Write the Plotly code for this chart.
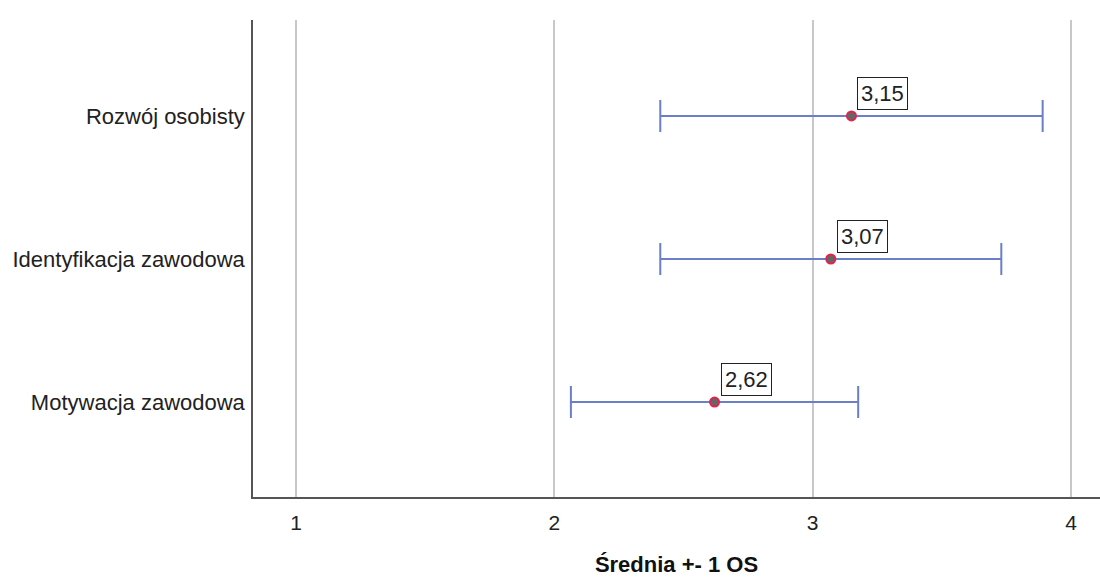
import plotly.graph_objects as go

# Scale scores: mean and +/- 1 standard deviation
categories = ["Motywacja zawodowa", "Identyfikacja zawodowa", "Rozwój osobisty"]
means = [2.62, 3.07, 3.15]
sds = [0.556, 0.66, 0.74]
x_ticks = [1, 2, 3, 4]
x_title = "Średnia +- 1 OS"

FONT = "Liberation Sans, Arial, sans-serif"

fig = go.Figure()
fig.add_trace(go.Scatter(
    x=means,
    y=list(range(len(categories))),
    mode="markers",
    marker=dict(size=9, color="#666666", line=dict(color="#e0244c", width=2)),
    error_x=dict(type="data", array=sds, symmetric=True,
                 color="#6a7fc8", thickness=2, width=16),
    showlegend=False,
    hoverinfo="skip",
))

# Value boxes next to each mean
for i, m in enumerate(means):
    fig.add_annotation(
        x=m, y=i, xref="x", yref="y",
        text=f"{m:.2f}".replace(".", ","),
        showarrow=False,
        xanchor="left", yanchor="bottom",
        xshift=6, yshift=6,
        font=dict(family=FONT, size=22, color="#222"),
        bordercolor="#222", borderwidth=1, borderpad=3,
        bgcolor="white",
    )

fig.update_layout(
    width=1100, height=577,
    margin=dict(l=253, r=0, t=20, b=80),
    plot_bgcolor="white", paper_bgcolor="white",
    font=dict(family=FONT, size=21, color="#222"),
)
fig.update_xaxes(
    range=[0.8335, 4.112],
    tickvals=x_ticks,
    showgrid=True, gridcolor="#c8c8c8", gridwidth=1.5,
    zeroline=False,
    showline=True, linecolor="#555", linewidth=1.5,
    ticks="", ticklabelstandoff=6,
    tickfont=dict(size=21, color="#222"),
    title=dict(text="<b>" + x_title + "</b>", font=dict(size=22, color="#111"), standoff=25),
)
fig.update_yaxes(
    range=[-0.664, 2.671],
    tickvals=list(range(len(categories))),
    ticktext=categories,
    showgrid=False, zeroline=False,
    showline=True, linecolor="#555", linewidth=1.5,
    ticks="", ticklabelstandoff=2,
    tickfont=dict(size=22, color="#222"),
)

fig.write_html("out.html")
